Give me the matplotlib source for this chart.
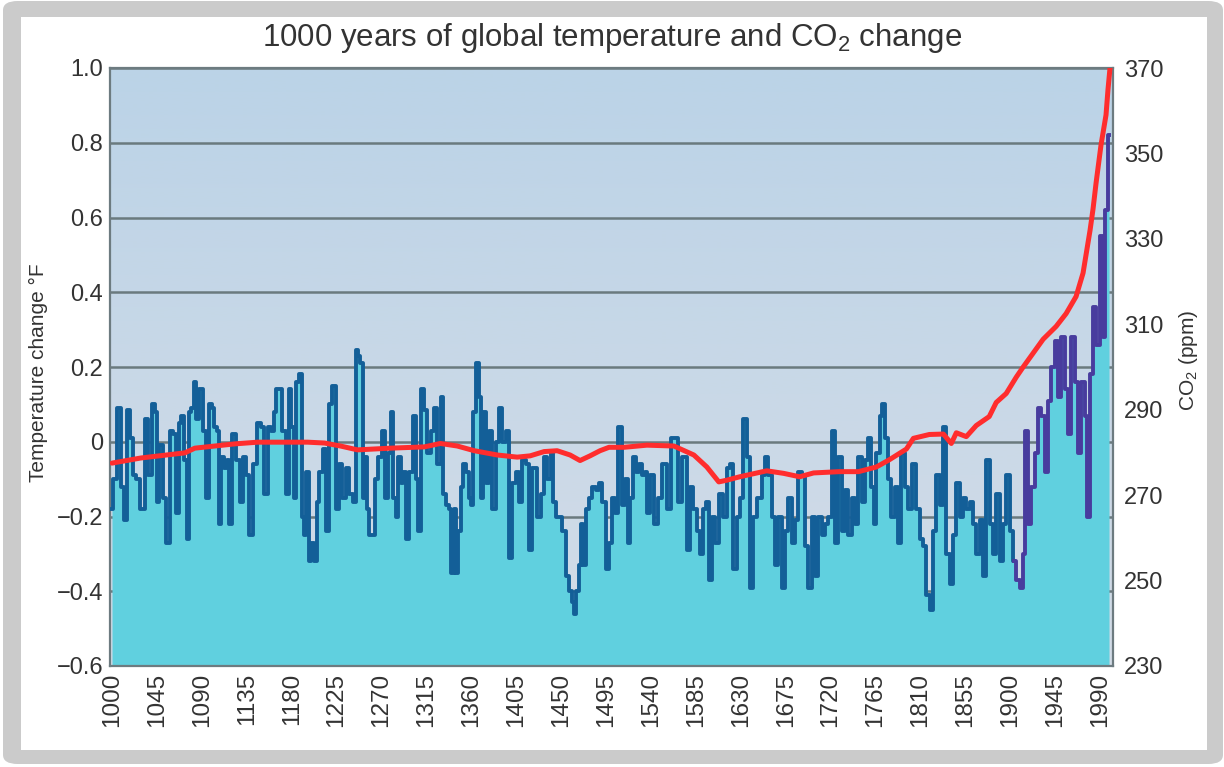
import numpy as np
import matplotlib
matplotlib.use("Agg")
import matplotlib.pyplot as plt
from matplotlib.colors import LinearSegmentedColormap
from matplotlib.patches import FancyBboxPatch, Rectangle

plt.rcParams['font.family'] = ['Liberation Sans', 'DejaVu Sans']
plt.rcParams['mathtext.fontset'] = 'custom'
plt.rcParams['mathtext.rm'] = 'Liberation Sans'

# ---------------- data ----------------
temp_years = [
    1000, 1003, 1008, 1011, 1014, 1017, 1020, 1023, 1026, 1031, 1035, 1038, 1042, 1045, 1046, 1049,
    1053, 1056, 1060, 1063, 1066, 1068, 1071, 1074, 1076, 1078, 1081, 1083, 1086, 1089, 1093, 1096,
    1099, 1101, 1104, 1106, 1108, 1110, 1114, 1116, 1118, 1123, 1126, 1130, 1133, 1136, 1139, 1143,
    1148, 1151, 1154, 1158, 1161, 1163, 1166, 1169, 1172, 1176, 1178, 1181, 1183, 1186, 1189, 1191,
    1193, 1196, 1198, 1201, 1204, 1206, 1209, 1213, 1216, 1219, 1222, 1226, 1229, 1232, 1236, 1239,
    1243, 1245, 1247, 1250, 1253, 1255, 1256, 1260, 1263, 1265, 1269, 1273, 1275, 1278, 1281, 1283,
    1286, 1288, 1291, 1293, 1296, 1299, 1304, 1306, 1308, 1311, 1314, 1318, 1321, 1324, 1328, 1331,
    1333, 1336, 1339, 1341, 1344, 1346, 1348, 1351, 1353, 1356, 1359, 1361, 1363, 1366, 1369, 1371,
    1373, 1376, 1379, 1383, 1386, 1389, 1393, 1396, 1399, 1403, 1406, 1409, 1413, 1416, 1419, 1423,
    1428, 1431, 1434, 1438, 1441, 1443, 1446, 1449, 1453, 1456, 1459, 1462, 1463, 1466, 1469, 1471,
    1473, 1476, 1479, 1483, 1486, 1489, 1493, 1496, 1499, 1503, 1506, 1509, 1513, 1516, 1518, 1521,
    1524, 1527, 1530, 1533, 1535, 1538, 1541, 1546, 1549, 1554, 1558, 1563, 1566, 1569, 1574, 1578,
    1581, 1584, 1588, 1591, 1594, 1597, 1599, 1603, 1606, 1611, 1614, 1618, 1621, 1624, 1628, 1631,
    1634, 1638, 1641, 1644, 1649, 1653, 1656, 1659, 1663, 1666, 1669, 1673, 1676, 1679, 1683, 1686,
    1689, 1693, 1696, 1699, 1703, 1706, 1709, 1713, 1716, 1719, 1723, 1726, 1729, 1733, 1736, 1739,
    1743, 1746, 1749, 1753, 1756, 1759, 1763, 1764, 1768, 1771, 1773, 1776, 1779, 1783, 1786, 1789,
    1793, 1796, 1799, 1804, 1808, 1811, 1814, 1818, 1821, 1824, 1828, 1831, 1834, 1838, 1841, 1844,
    1848, 1851, 1854, 1858, 1861, 1864, 1868, 1871, 1874, 1878, 1881, 1884, 1888, 1891, 1894, 1898,
    1901, 1904, 1908, 1911, 1914, 1916, 1919, 1923, 1926, 1929, 1933, 1936, 1939, 1943, 1946, 1949,
    1953, 1956, 1959, 1963, 1966, 1969, 1973, 1976, 1978, 1981, 1984, 1988, 1991, 1994, 1996, 1999,
]
temp_values = [
    -0.18, -0.10, 0.09, -0.12, -0.21, 0.085, 0.01, -0.09, -0.10, -0.18, 0.06, -0.09, 0.10, 0.08, -0.16, -0.01,
    -0.15, -0.27, 0.03, 0.02, -0.19, 0.05, 0.07, -0.05, -0.26, 0.08, 0.09, 0.16, 0.06, 0.14, 0.03, -0.15,
    0.10, 0.09, 0.04, 0.03, -0.22, -0.04, -0.07, -0.05, -0.22, 0.02, -0.05, -0.16, -0.04, -0.09, -0.25, -0.06,
    0.05, 0.04, -0.14, 0.04, 0.03, 0.08, 0.14, 0.14, 0.03, -0.14, 0.14, 0.04, -0.15, 0.16, 0.18, -0.20,
    -0.25, -0.08, -0.32, -0.27, -0.32, -0.16, -0.08, -0.02, -0.24, 0.10, 0.15, -0.18, -0.06, -0.15, -0.07, -0.14,
    -0.16, 0.245, 0.23, 0.21, -0.15, -0.04, -0.18, -0.25, -0.25, -0.10, -0.04, 0.03, -0.15, -0.03, 0.08, -0.15,
    -0.20, -0.04, -0.11, -0.08, -0.26, -0.08, 0.07, -0.10, -0.24, 0.14, 0.085, -0.03, 0.03, 0.09, -0.06, 0.12,
    -0.14, -0.17, -0.18, -0.35, -0.18, -0.35, -0.24, -0.12, -0.06, -0.08, -0.15, -0.17, 0.08, 0.21, 0.12, -0.15,
    0.08, -0.11, 0.03, -0.18, 0.00, 0.09, 0.00, 0.03, -0.31, -0.11, -0.08, -0.16, -0.05, -0.06, -0.29, -0.07,
    -0.20, -0.14, -0.04, -0.10, -0.03, -0.16, -0.20, -0.20, -0.24, -0.36, -0.40, -0.43, -0.46, -0.40, -0.33, -0.22,
    -0.33, -0.18, -0.15, -0.12, -0.13, -0.11, -0.16, -0.34, -0.27, -0.15, -0.19, 0.04, -0.17, -0.10, -0.27, -0.15,
    -0.04, -0.08, -0.06, -0.09, -0.08, -0.19, -0.09, -0.22, -0.15, -0.06, -0.18, 0.01, 0.01, -0.16, -0.04, -0.29,
    -0.12, -0.18, -0.24, -0.30, -0.18, -0.16, -0.37, -0.20, -0.27, -0.14, -0.20, -0.07, -0.06, -0.34, -0.20, -0.15,
    0.06, -0.04, -0.39, -0.20, -0.15, -0.09, -0.04, -0.09, -0.20, -0.33, -0.20, -0.39, -0.24, -0.15, -0.27, -0.21,
    -0.08, -0.09, -0.28, -0.39, -0.20, -0.36, -0.20, -0.25, -0.22, -0.20, 0.03, -0.27, -0.04, -0.24, -0.13, -0.25,
    -0.15, -0.22, -0.04, -0.16, -0.05, 0.01, -0.12, -0.22, -0.03, 0.07, 0.10, 0.01, -0.10, -0.20, -0.12, -0.27,
    -0.03, -0.12, -0.18, -0.06, -0.18, -0.26, -0.28, -0.41, -0.45, -0.24, -0.09, -0.17, 0.04, -0.30, -0.38, -0.25,
    -0.11, -0.20, -0.15, -0.18, -0.16, -0.22, -0.30, -0.21, -0.36, -0.05, -0.22, -0.30, -0.14, -0.32, -0.22, -0.09,
    -0.24, -0.32, -0.37, -0.39, -0.30, 0.03, -0.22, -0.12, -0.03, 0.09, 0.07, -0.08, 0.11, 0.20, 0.27, 0.12,
    0.28, 0.14, 0.02, 0.28, 0.16, -0.03, 0.16, 0.07, -0.20, 0.18, 0.36, 0.26, 0.55, 0.28, 0.62, 0.82,
]
recent_start = 1904  # series drawn in purple from here on

co2_years = [
    1000, 1029, 1073, 1083, 1123, 1146, 1196, 1213, 1229, 1246, 1279, 1313, 1329, 1346, 1363, 1386,
    1406, 1419, 1433, 1446, 1459, 1469, 1479, 1489, 1498, 1513, 1536, 1563, 1583, 1596, 1608, 1616,
    1629, 1656, 1673, 1689, 1703, 1729, 1748, 1766, 1779, 1796, 1803, 1819, 1833, 1841, 1846, 1856,
    1866, 1879, 1886, 1896, 1906, 1913, 1933, 1946, 1956, 1966, 1973, 1980, 1983, 1986, 1991, 1996,
    1998, 2000,
]
co2_values = [
    277.5, 278.7, 279.9, 281.0, 282.0, 282.4, 282.4, 282.2, 281.5, 280.6, 281.0, 281.3, 282.1, 281.5, 280.4, 279.4,
    278.9, 279.2, 280.2, 280.4, 279.4, 278.1, 279.2, 280.4, 281.2, 281.2, 281.7, 281.5, 279.4, 276.6, 273.1, 273.5,
    274.3, 275.7, 275.1, 274.3, 275.2, 275.5, 275.5, 276.6, 278.3, 280.8, 283.3, 284.2, 284.3, 282.1, 284.6, 283.7,
    286.3, 288.4, 291.7, 293.8, 297.6, 300.0, 306.5, 309.5, 312.5, 316.5, 322.0, 332.0, 337.0, 343.0, 352.0, 359.0,
    365.0, 370.0,
]

x_ticks = list(range(1000, 1991, 45))
y_ticks = [-0.6, -0.4, -0.2, 0, 0.2, 0.4, 0.6, 0.8, 1.0]
y_ticklabels = ['\u22120.6', '\u22120.4', '\u22120.2', '0', '0.2', '0.4', '0.6', '0.8', '1.0']
co2_ticks = [230, 250, 270, 290, 310, 330, 350, 370]

# ---------------- figure ----------------
W, H = 1224, 767
fig = plt.figure(figsize=(W / 100, H / 100), dpi=100, facecolor='white')

# gray frame with white card
fig.patches.append(FancyBboxPatch((3 / W, 3 / H), 1 - 4 / W, 1 - 4 / H,
                                  boxstyle="round,pad=0,rounding_size=0.012",
                                  transform=fig.transFigure, fc='#cbcbcb', ec='none', zorder=-10))
fig.patches.append(Rectangle((21 / W, 17 / H), (1207 - 21) / W, (750 - 17) / H,
                             transform=fig.transFigure, fc='white', ec='none', zorder=-9))

ax_l, ax_r, ax_t, ax_b = 110, 1113, 68, 666
ax = fig.add_axes([ax_l / W, 1 - ax_b / H, (ax_r - ax_l) / W, (ax_b - ax_t) / H])

xmin, xmax = 998, 2003
ymin, ymax = -0.6, 1.0

# background gradient
bg_cmap = LinearSegmentedColormap.from_list('bg', ['#d3dce7', '#c8d8e7', '#bbd3e7'])
ax.imshow(np.linspace(0, 1, 256).reshape(-1, 1), extent=[xmin, xmax, ymin, ymax],
          aspect='auto', cmap=bg_cmap, origin='lower', zorder=0, interpolation='bilinear')

# grid
for yt in y_ticks:
    ax.axhline(yt, color='#6a7a7e', lw=1.8, zorder=1)

ty = np.array(temp_years)
tv = np.array(temp_values)
ax.fill_between(ty, tv, ymin, color='#60d0df', lw=0, zorder=2, step='mid')

old = ty <= recent_start
new = ty >= recent_start
ax.plot(ty[old], tv[old], color='#135f98', lw=2.8, zorder=3, drawstyle='steps-mid')
ax.plot(ty[new], tv[new], color='#483c9e', lw=2.8, zorder=3, drawstyle='steps-mid')

ax.set_xlim(xmin, xmax)
ax.set_ylim(ymin, ymax)
ax.set_xticks(x_ticks)
ax.set_xticklabels([str(t) for t in x_ticks], rotation=90, fontsize=17.5, color='#333333')
ax.set_yticks(y_ticks)
ax.set_yticklabels(y_ticklabels, fontsize=17, color='#333333')
ax.tick_params(length=0, pad=5)
for s in ax.spines.values():
    s.set_color('#6d7b80')
    s.set_linewidth(1.6)

ax2 = ax.twinx()
ax2.plot(co2_years, co2_values, color='#ff2d2d', lw=3.6, zorder=5, solid_capstyle='round')
ax2.set_ylim(230, 370)
ax2.set_yticks(co2_ticks)
ax2.set_yticklabels([str(t) for t in co2_ticks], fontsize=17, color='#333333')
ax2.tick_params(length=0, pad=8)
ax2.set_xlim(xmin, xmax)
for s in ax2.spines.values():
    s.set_visible(False)

fig.text(612 / W, 1 - 38 / H, r'1000 years of global temperature and CO$_\mathregular{2}$ change',
         ha='center', va='center', fontsize=22.5, color='#333333')
fig.text(38 / W, 1 - 373 / H, 'Temperature change \u00b0F', rotation=90,
         ha='center', va='center', fontsize=15, color='#333333')
fig.text(1189 / W, 1 - 360 / H, r'CO$_\mathregular{2}$ (ppm)', rotation=90,
         ha='center', va='center', fontsize=15, color='#333333')

fig.savefig('out.png', dpi=100, facecolor=fig.get_facecolor())
